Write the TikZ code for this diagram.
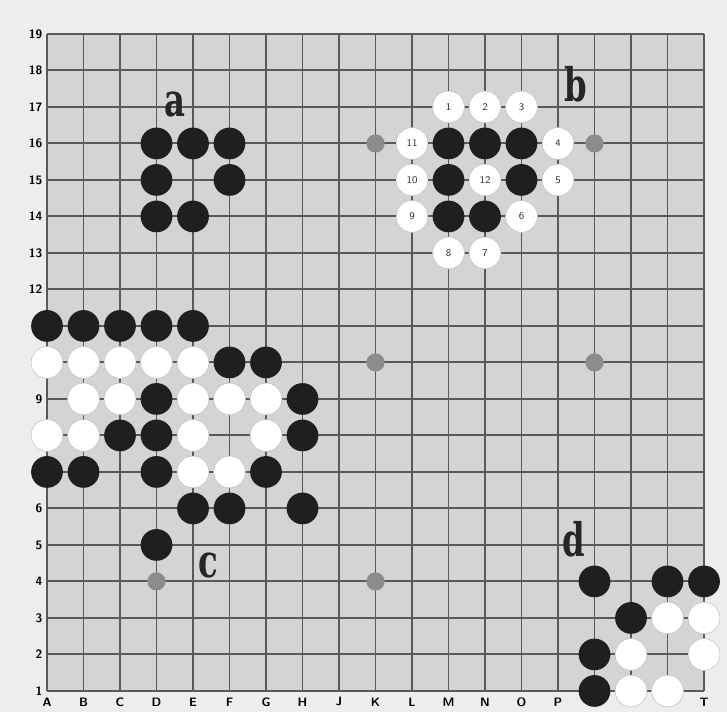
\documentclass[tikz,border=0pt]{standalone}
\usepackage{tikz}
\usepackage{fontspec}
\newfontfamily\groupfont{DejaVu Serif}

\begin{document}
\begin{tikzpicture}[x=1cm, y=1cm,
  paper/.style={fill=black!7},
  board/.style={fill=black!17},
  gridline/.style={draw=black!65, line width=1.5pt},
  stone/.style={circle, minimum size=0.87cm, inner sep=0pt},
  bstone/.style={stone, fill=black!88},
  wstone/.style={stone, fill=white, draw=black!25, line width=0.4pt,
                 font=\fontsize{8}{8}\selectfont\sffamily, text=black!80},
  hoshi/.style={circle, minimum size=0.5cm, inner sep=0pt, fill=black!45},
  rowlab/.style={font=\fontsize{9.5}{9.5}\selectfont\sffamily\bfseries, anchor=east, inner sep=0pt},
  collab/.style={font=\fontsize{9.5}{9.5}\selectfont\sffamily\bfseries, inner sep=0pt},
  grouplab/.style={font=\fontsize{36}{36}\selectfont\groupfont\bfseries, xscale=0.7,
                   inner sep=0pt, anchor=base, text=black!85}]
\fill[paper] (-0.288,0.425) rectangle (19.63,19.93);
\useasboundingbox (-0.288,0.425) rectangle (19.63,19.93);
% board and lines
\fill[board] (1,1) rectangle (19,19);
\draw[gridline] (1,1) grid (19,19);
% coordinates round the edge
\foreach \r in {19,18,17,16,15,14,13,12,9,6,5,4,3,2,1}
  \node[rowlab] (r\r) at (0.88,\r) {\r};
\foreach \c/\l in {1/A,2/B,3/C,4/D,5/E,6/F,7/G,8/H,9/J,10/K,11/L,12/M,13/N,14/O,15/P,19/T}
  \node[collab] (c\l) at (\c,0.70) {\l};
% star points
\foreach \c/\r/\n in {10/16/K16,16/16/Q16,10/10/K10,16/10/Q10,4/4/D4,10/4/K4}
  \node[hoshi] (h\n) at (\c,\r) {};
% black stones
\foreach \c/\r/\n in {4/16/D16,5/16/E16,6/16/F16,4/15/D15,6/15/F15,4/14/D14,5/14/E14,
    12/16/M16,13/16/N16,14/16/O16,12/15/M15,14/15/O15,12/14/M14,13/14/N14,
    1/11/A11,2/11/B11,3/11/C11,4/11/D11,5/11/E11,6/10/F10,7/10/G10,4/9/D9,8/9/H9,
    3/8/C8,4/8/D8,8/8/H8,1/7/A7,2/7/B7,4/7/D7,7/7/G7,5/6/E6,6/6/F6,8/6/H6,4/5/D5,
    16/4/Q4,18/4/S4,19/4/T4,17/3/R3,16/2/Q2,16/1/Q1}
  \node[bstone] (b\n) at (\c,\r) {};
% white stones
\foreach \c/\r/\n in {1/10/A10,2/10/B10,3/10/C10,4/10/D10,5/10/E10,
    2/9/B9,3/9/C9,5/9/E9,6/9/F9,7/9/G9,1/8/A8,2/8/B8,5/8/E8,7/8/G8,5/7/E7,6/7/F7,
    18/3/S3,19/3/T3,17/2/R2,19/2/T2,17/1/R1,18/1/S1}
  \node[wstone] (w\n) at (\c,\r) {};
% numbered white stones
\foreach \c/\r/\k in {12/17/1,13/17/2,14/17/3,15/16/4,15/15/5,14/14/6,
    13/13/7,12/13/8,11/14/9,11/15/10,11/16/11,13/15/12}
  \node[wstone] (m\k) at (\c,\r) {\k};
% group letters
\node[grouplab] (ga) at (4.51,16.73) {a};
\node[grouplab] (gb) at (15.49,17.14) {b};
\node[grouplab] (gc) at (5.41,4.10) {c};
\node[grouplab] (gd) at (15.44,4.67) {d};
\end{tikzpicture}
\end{document}
